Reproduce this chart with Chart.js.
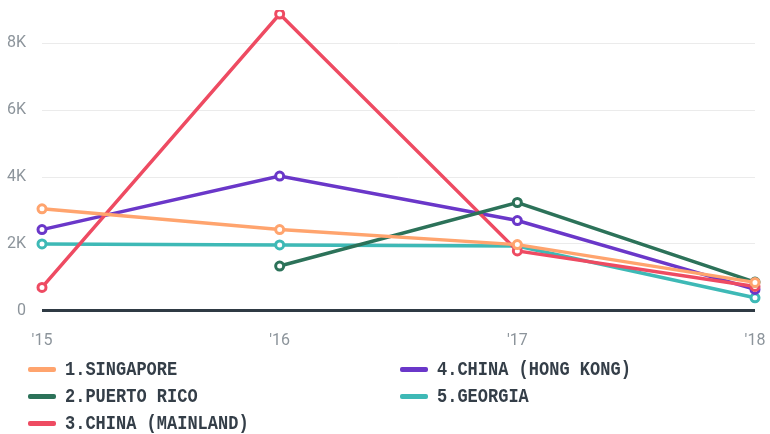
<!DOCTYPE html>
<html>
<head>
<meta charset="utf-8">
<script src="https://cdn.jsdelivr.net/npm/chart.js@4"></script>
<style>
  body { margin: 0; background: #fff; width: 770px; height: 434px; overflow: hidden; }
  #wrap { position: relative; width: 770px; height: 364px; }
  #legend { position: absolute; top: 356px; left: 28px; width: 740px; display: grid;
    grid-template-columns: 372px 360px; grid-auto-flow: column; grid-template-rows: 27px 27px 27px; }
  .item { display: flex; align-items: center; font-family: 'Liberation Mono', monospace; font-weight: bold;
    font-size: 17px; color: #343e48; }
  .txt { display: inline-block; transform: scaleY(1.15); }
  .sw { width: 28px; height: 5px; border-radius: 2px; margin-right: 9px; }
</style>
</head>
<body>
<div id="wrap"><canvas id="chart"></canvas></div>
<div id="legend"></div>
<script>
const years = ["'15", "'16", "'17", "'18"]
const names = ['1.SINGAPORE', '2.PUERTO RICO', '3.CHINA (MAINLAND)', '4.CHINA (HONG KONG)', '5.GEORGIA']
const colors = ['#ffa46e', '#2c7259', '#ee4b62', '#6a37c9', '#3eb9b6']
const yTicks = [0, 2000, 4000, 6000, 8000]

const singapore = [3050, 2430, 1980, 850]
const puertoRico = [null, 1340, 3240, 860]
const chinaMainland = [700, 8880, 1790, 730]
const hongKong = [2430, 4030, 2700, 640]
const georgia = [2000, 1970, 1940, 390]

const series = [singapore, puertoRico, chinaMainland, hongKong, georgia]

let datasets = series.map((values, i) => ({
    label: names[i],
    data: values,
    borderColor: colors[i],
    backgroundColor: colors[i],
    pointBackgroundColor: '#fff',
    pointBorderColor: colors[i],
    pointBorderWidth: 3,
    pointRadius: 4,
    borderWidth: 3.5,
    tension: 0,
    spanGaps: false
}))

let legend = document.getElementById('legend')
names.forEach((n, i) => {
    let d = document.createElement('div')
    d.className = 'item'
    d.innerHTML = '<span class="sw" style="background:' + colors[i] + '"></span><span class="txt">' + n + '</span>'
    legend.appendChild(d)
})

const tickFont = { family: "'Liberation Sans Narrow', 'Roboto', sans-serif", size: 16 }

new Chart(document.getElementById('chart'), {
    type: 'line',
    data: { labels: years, datasets: datasets },
    options: {
        responsive: true,
        maintainAspectRatio: false,
        animation: false,
        layout: { padding: { top: 10, right: 15, left: 0, bottom: 0 } },
        plugins: { legend: { display: false }, tooltip: { enabled: false } },
        scales: {
            x: {
                offset: false,
                afterFit: scale => { scale.paddingLeft = 0; scale.paddingRight = 0 },
                grid: { display: false },
                border: { display: false },
                ticks: { color: '#8c949b', font: tickFont, padding: 13, maxRotation: 0 }
            },
            y: {
                min: 0,
                max: 9000,
                afterBuildTicks: scale => { scale.ticks = yTicks.map(v => ({ value: v })) },
                afterFit: scale => { scale.width = 42; scale.paddingTop = 0; scale.paddingBottom = 0 },
                border: { display: false },
                grid: {
                    drawTicks: false,
                    color: c => c.tick.value === 0 ? '#2f3a44' : '#ebebeb',
                    lineWidth: c => c.tick.value === 0 ? 3 : 1
                },
                ticks: {
                    autoSkip: false,
                    color: '#8c949b',
                    font: tickFont,
                    padding: 16,
                    callback: v => v === 0 ? '0' : (v / 1000) + 'K'
                }
            }
        }
    }
})
</script>
</body>
</html>
